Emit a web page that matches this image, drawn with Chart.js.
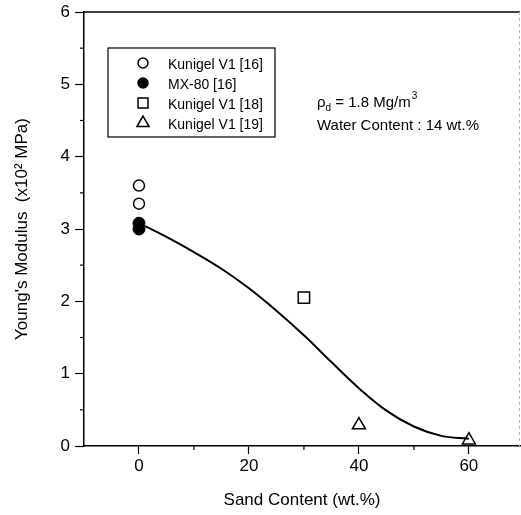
<!DOCTYPE html>
<html>
<head>
<meta charset="utf-8">
<script src="https://cdn.jsdelivr.net/npm/chart.js@4.4.0/dist/chart.umd.min.js"></script>
<style>
  body { margin: 0; background: #fff; overflow: hidden; }
  #wrap { width: 521px; height: 515px; position: relative; }
</style>
</head>
<body>
<div id="wrap"><canvas id="chart"></canvas></div>
<script>
// --- data ---
const kunigel16X = [0, 0];
const kunigel16Y = [3.6, 3.35];
const mx80X = [0, 0];
const mx80Y = [3.08, 3.0];
const kunigel18X = [30];
const kunigel18Y = [2.05];
const kunigel19X = [40, 60];
const kunigel19Y = [0.29, 0.08];

// fitted curve
const fitX = [0, 5, 10, 15, 20, 25, 30, 35, 40, 45, 50, 55, 60];
const fitY = [3.08, 2.89, 2.68, 2.45, 2.18, 1.87, 1.53, 1.16, 0.8, 0.49, 0.27, 0.14, 0.1];

const xTicks = [0, 10, 20, 30, 40, 50, 60];
const yTicks = [0, 0.5, 1, 1.5, 2, 2.5, 3, 3.5, 4, 4.5, 5, 5.5, 6];

const legendItems = [
    { label: 'Kunigel V1 [16]', style: 'circle', fill: '#fff', r: 5 },
    { label: 'MX-80 [16]', style: 'circle', fill: '#000', r: 5 },
    { label: 'Kunigel V1 [18]', style: 'rect', fill: '#fff', r: 7 },
    { label: 'Kunigel V1 [19]', style: 'triangle', fill: '#fff', r: 7 }
];

const FONT = '"Liberation Sans", Arial, Helvetica, sans-serif';

function pts(xs, ys) {
    return xs.map((x, i) => ({ x: x, y: ys[i] }));
}

// frame, minor ticks, legend box and the note text
const extras = {
    id: 'extras',
    afterDraw(chart) {
        const ctx = chart.ctx;
        const a = chart.chartArea;
        const xs = chart.scales.x, ys = chart.scales.y;
        ctx.save();

        // top border + faint right border
        ctx.strokeStyle = '#000';
        ctx.lineWidth = 1.5;
        ctx.beginPath();
        ctx.moveTo(a.left, a.top);
        ctx.lineTo(a.right, a.top);
        ctx.stroke();
        ctx.strokeStyle = '#bbb';
        ctx.lineWidth = 1;
        ctx.setLineDash([3, 3]);
        ctx.beginPath();
        ctx.moveTo(a.right - 0.5, a.top);
        ctx.lineTo(a.right - 0.5, a.bottom);
        ctx.stroke();
        ctx.setLineDash([]);

        // minor ticks
        ctx.strokeStyle = '#000';
        ctx.lineWidth = 1.2;
        xTicks.forEach(v => {
            if (v % 20 !== 0) {
                const px = xs.getPixelForValue(v);
                ctx.beginPath();
                ctx.moveTo(px, a.bottom);
                ctx.lineTo(px, a.bottom + 4);
                ctx.stroke();
            }
        });
        yTicks.forEach(v => {
            if (v % 1 !== 0) {
                const py = ys.getPixelForValue(v);
                ctx.beginPath();
                ctx.moveTo(a.left, py);
                ctx.lineTo(a.left - 4, py);
                ctx.stroke();
            }
        });

        // legend box
        ctx.lineWidth = 1.2;
        ctx.strokeRect(108, 48, 167, 89);
        ctx.font = '14px ' + FONT;
        ctx.fillStyle = '#000';
        ctx.textBaseline = 'alphabetic';
        legendItems.forEach((it, i) => {
            const cy = 63 + i * 20;
            ctx.fillStyle = it.fill;
            ctx.strokeStyle = '#000';
            ctx.lineWidth = 1.5;
            Chart.helpers.drawPoint(ctx, { pointStyle: it.style, radius: it.r, rotation: 0, borderWidth: 1.5 }, 143, cy);
            ctx.fillStyle = '#000';
            ctx.fillText(it.label, 168, cy + 6);
        });

        // note: rho_d = 1.8 Mg/m^3 / Water Content : 14 wt.%
        ctx.font = '15px ' + FONT;
        let x = 317;
        ctx.fillText('ρ', x, 107);
        x += ctx.measureText('ρ').width;
        ctx.font = '10px ' + FONT;
        ctx.fillText('d', x, 111);
        x += ctx.measureText('d').width;
        ctx.font = '15px ' + FONT;
        const main = ' = 1.8 Mg/m';
        ctx.fillText(main, x, 107);
        x += ctx.measureText(main).width;
        ctx.font = '10px ' + FONT;
        ctx.fillText('3', x + 1, 99);
        ctx.font = '15px ' + FONT;
        ctx.fillText('Water Content : 14 wt.%', 317, 130);

        ctx.restore();
    }
};

const ctx = document.getElementById('chart').getContext('2d');

new Chart(ctx, {
    type: 'scatter',
    data: {
        datasets: [
            {
                label: 'fit',
                type: 'line',
                data: pts(fitX, fitY),
                borderColor: '#000',
                borderWidth: 2,
                pointRadius: 0,
                tension: 0.4,
                fill: false
            },
            {
                label: 'Kunigel V1 [16]',
                data: pts(kunigel16X, kunigel16Y),
                pointStyle: 'circle',
                pointRadius: 5.5,
                backgroundColor: '#fff',
                borderColor: '#000',
                borderWidth: 1.5
            },
            {
                label: 'MX-80 [16]',
                data: pts(mx80X, mx80Y),
                pointStyle: 'circle',
                pointRadius: 6,
                backgroundColor: '#000',
                borderColor: '#000',
                borderWidth: 1
            },
            {
                label: 'Kunigel V1 [18]',
                data: pts(kunigel18X, kunigel18Y),
                pointStyle: 'rect',
                pointRadius: 8,
                backgroundColor: '#fff',
                borderColor: '#000',
                borderWidth: 1.5
            },
            {
                label: 'Kunigel V1 [19]',
                data: pts(kunigel19X, kunigel19Y),
                pointStyle: 'triangle',
                pointRadius: 7.5,
                backgroundColor: '#fff',
                borderColor: '#000',
                borderWidth: 1.5
            }
        ]
    },
    options: {
        responsive: true,
        maintainAspectRatio: false,
        animation: false,
        layout: { autoPadding: false, padding: { top: 12, right: 1, left: 0, bottom: 0 } },
        plugins: {
            legend: { display: false },
            tooltip: { enabled: false }
        },
        scales: {
            x: {
                type: 'linear',
                min: -10,
                max: 69.3,
                afterBuildTicks: s => { s.ticks = xTicks.map(v => ({ value: v })); },
                afterFit: s => { s.height = 69; s.paddingLeft = 0; s.paddingRight = 0; },
                ticks: {
                    color: '#000',
                    font: { family: FONT, size: 17 },
                    padding: 2,
                    maxRotation: 0,
                    callback: v => (v % 20 === 0 ? String(v) : '')
                },
                grid: {
                    drawOnChartArea: false,
                    tickLength: 8,
                    tickWidth: 1.2,
                    tickColor: c => (c.tick && c.tick.value % 20 === 0 ? '#000' : 'rgba(0,0,0,0)')
                },
                border: { color: '#000', width: 1.5 },
                title: {
                    display: true,
                    text: 'Sand Content (wt.%)',
                    color: '#000',
                    font: { family: FONT, size: 17 },
                    padding: { top: 8 }
                }
            },
            y: {
                type: 'linear',
                min: 0,
                max: 6,
                afterBuildTicks: s => { s.ticks = yTicks.map(v => ({ value: v })); },
                afterFit: s => { s.width = 84; s.paddingTop = 0; s.paddingBottom = 0; },
                ticks: {
                    color: '#000',
                    font: { family: FONT, size: 17 },
                    padding: 5,
                    callback: v => (v % 1 === 0 ? String(v) : '')
                },
                grid: {
                    drawOnChartArea: false,
                    tickLength: 9,
                    tickWidth: 1.2,
                    tickColor: c => (c.tick && c.tick.value % 1 === 0 ? '#000' : 'rgba(0,0,0,0)')
                },
                border: { color: '#000', width: 1.5 },
                title: {
                    display: true,
                    text: "Young's Modulus  (x10² MPa)",
                    color: '#000',
                    font: { family: FONT, size: 17 },
                    padding: { top: 12, bottom: 0 }
                }
            }
        }
    },
    plugins: [extras]
});
</script>
</body>
</html>
